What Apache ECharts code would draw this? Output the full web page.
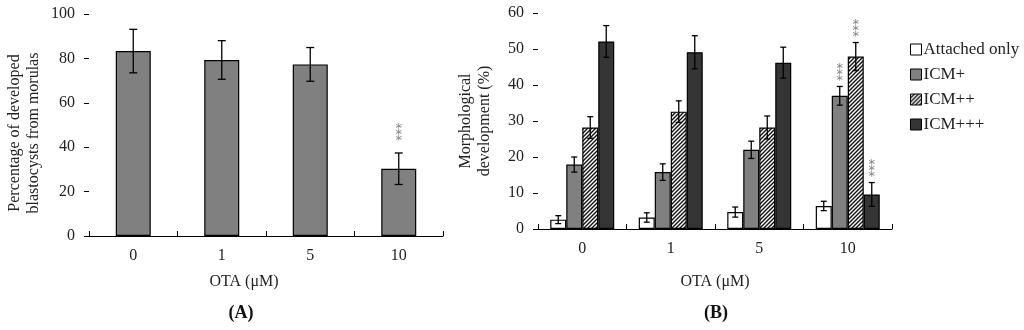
<!DOCTYPE html>
<html><head><meta charset="utf-8">
<script src="https://cdn.jsdelivr.net/npm/echarts@6/dist/echarts.min.js"></script>
<style>html,body{margin:0;padding:0;background:#fff}#c{width:1024px;height:330px}</style>
</head><body><div id="c"></div>
<script>
// ---- data ----
const categories = ['0', '1', '5', '10'];
const blastocystMean = [83.3, 79.3, 77.3, 30.3];
const blastocystErr = [9.8, 8.7, 7.6, 7.1];
const blastocystSig = [0, 0, 0, 1];

const seriesNames = ['Attached only', 'ICM+', 'ICM++', 'ICM+++'];
const attachedMean = [2.6, 3.2, 4.7, 6.4];
const attachedErr = [1.1, 1.3, 1.4, 1.3];
const attachedSig = [0, 0, 0, 0];
const icm1Mean = [17.9, 15.8, 22.0, 37.0];
const icm1Err = [2.1, 2.3, 2.4, 2.6];
const icm1Sig = [0, 0, 0, 1];
const icm2Mean = [28.2, 32.6, 28.2, 47.9];
const icm2Err = [3.0, 3.0, 3.2, 3.9];
const icm2Sig = [0, 0, 0, 1];
const icm3Mean = [52.1, 49.1, 46.2, 9.6];
const icm3Err = [4.4, 4.6, 4.3, 3.3];
const icm3Sig = [0, 0, 0, 1];

const yTicksA = {min: 0, max: 100, interval: 20};
const yTicksB = {min: 0, max: 60, interval: 10};

// ---- styles ----
const FONT = '"Liberation Serif", "Times New Roman", serif';
function hatch() {
  const s = 4;
  const c = document.createElement('canvas'); c.width = s; c.height = s;
  const g = c.getContext('2d');
  g.fillStyle = '#fff'; g.fillRect(0, 0, s, s);
  g.strokeStyle = '#111'; g.lineWidth = 1.4;
  g.beginPath();
  g.moveTo(0, s); g.lineTo(s, 0);
  g.moveTo(-1, 1); g.lineTo(1, -1);
  g.moveTo(s - 1, s + 1); g.lineTo(s + 1, s - 1);
  g.stroke();
  return c;
}
const fills = ['#ffffff', '#808080', {image: hatch(), repeat: 'repeat'}, '#353535'];

function errRender(offset, cap, starGap) {
  return function (params, api) {
    const i = api.value(0), v = api.value(1), e = api.value(2), sig = api.value(3);
    const top = api.coord([i, v + e]);
    const bot = api.coord([i, v - e]);
    const x = top[0] + offset;
    const st = {stroke: '#000', lineWidth: 1.3};
    const ch = [
      {type: 'line', shape: {x1: x, y1: top[1], x2: x, y2: bot[1]}, style: st},
      {type: 'line', shape: {x1: x - cap, y1: top[1], x2: x + cap, y2: top[1]}, style: st},
      {type: 'line', shape: {x1: x - cap, y1: bot[1], x2: x + cap, y2: bot[1]}, style: st}
    ];
    if (sig) {
      for (let s = 0; s < 3; s++) {
        ch.push({type: 'text', x: x, y: top[1] - starGap - 6 * s + 4,
          style: {text: '*', fill: '#808080', font: '13px "DejaVu Sans"', align: 'center', verticalAlign: 'middle'}});
      }
    }
    return {type: 'group', children: ch};
  };
}
function errData(mean, err, sig) {
  return mean.map((m, i) => [i, m, err[i], sig[i]]);
}

const axisCommon = {
  axisLine: {lineStyle: {color: '#000', width: 1}},
  axisLabel: {color: '#222', fontFamily: FONT, fontSize: 16},
};

const chart = echarts.init(document.getElementById('c'), null, {renderer: 'canvas'});
const bMeans = [attachedMean, icm1Mean, icm2Mean, icm3Mean];
const bErrs = [attachedErr, icm1Err, icm2Err, icm3Err];
const bSigs = [attachedSig, icm1Sig, icm2Sig, icm3Sig];
const BW = 16;

const series = [
  {type: 'bar', xAxisIndex: 0, yAxisIndex: 0, data: blastocystMean, barWidth: 35,
   itemStyle: {color: '#808080', borderColor: '#000', borderWidth: 1.2}, silent: true},
  {type: 'custom', xAxisIndex: 0, yAxisIndex: 0, renderItem: errRender(0, 4, 16),
   data: errData(blastocystMean, blastocystErr, blastocystSig), z: 5, silent: true}
];
seriesNames.forEach((n, k) => {
  series.push({type: 'bar', name: n, xAxisIndex: 1, yAxisIndex: 1, data: bMeans[k], barWidth: BW, barGap: '0%',
    itemStyle: {color: fills[k], borderColor: '#000', borderWidth: 1.2}, silent: true});
});
seriesNames.forEach((n, k) => {
  series.push({type: 'custom', xAxisIndex: 1, yAxisIndex: 1, renderItem: errRender((k - 1.5) * BW, 3, 10),
    data: errData(bMeans[k], bErrs[k], bSigs[k]), z: 5, silent: true});
});

chart.setOption({
  animation: false,
  backgroundColor: '#fff',
  grid: [
    {left: 89, right: 581, top: 14, bottom: 94},
    {left: 538, right: 132, top: 13, bottom: 101}
  ],
  legend: {
    orient: 'vertical', left: 905, top: 36, itemWidth: 11, itemHeight: 11, itemGap: 8,
    icon: 'rect',
    data: seriesNames, selectedMode: false,
    textStyle: {fontFamily: FONT, fontSize: 17, color: '#222', padding: [0, 0, 0, -3]},
    itemStyle: {borderColor: '#000', borderWidth: 1}
  },
  xAxis: [0, 1].map(g => Object.assign({}, axisCommon, {
    type: 'category', gridIndex: g, data: categories, boundaryGap: true,
    axisTick: {show: true, inside: true, length: 5, alignWithLabel: false, lineStyle: {color: '#000'}},
    axisLabel: Object.assign({}, axisCommon.axisLabel, {margin: 12})
  })),
  yAxis: [
    Object.assign({}, axisCommon, {type: 'value', gridIndex: 0, min: yTicksA.min, max: yTicksA.max, interval: yTicksA.interval,
      splitLine: {show: false}, axisTick: {show: true, length: 5, lineStyle: {color: '#000'}},
      axisLabel: Object.assign({}, axisCommon.axisLabel, {margin: 14})}),
    Object.assign({}, axisCommon, {type: 'value', gridIndex: 1, min: yTicksB.min, max: yTicksB.max, interval: yTicksB.interval,
      splitLine: {show: false}, axisTick: {show: true, length: 5, lineStyle: {color: '#000'}},
      axisLabel: Object.assign({}, axisCommon.axisLabel, {margin: 14}),
      name: 'Morphological\ndevelopment (%)', nameLocation: 'middle', nameGap: 44,
      nameTextStyle: {fontFamily: FONT, fontSize: 16, color: '#222', lineHeight: 19}})
  ],
  graphic: [
    {type: 'text', x: 24, y: 133, rotation: Math.PI / 2,
     style: {text: 'Percentage of developed\nblastocysts from morulas', font: '16px ' + FONT, fill: '#222',
             align: 'center', verticalAlign: 'middle', lineHeight: 19}},
    {type: 'text', x: 244, y: 282, style: {text: 'OTA (μM)', font: '16px ' + FONT, fill: '#222', align: 'center', verticalAlign: 'middle'}},
    {type: 'text', x: 715, y: 282, style: {text: 'OTA (μM)', font: '16px ' + FONT, fill: '#222', align: 'center', verticalAlign: 'middle'}},
    {type: 'text', x: 241, y: 313, style: {text: '(A)', font: 'bold 18px ' + FONT, fill: '#111', align: 'center', verticalAlign: 'middle'}},
    {type: 'text', x: 716, y: 313, style: {text: '(B)', font: 'bold 18px ' + FONT, fill: '#111', align: 'center', verticalAlign: 'middle'}}
  ],
  series: series
});
</script>
</body></html>
